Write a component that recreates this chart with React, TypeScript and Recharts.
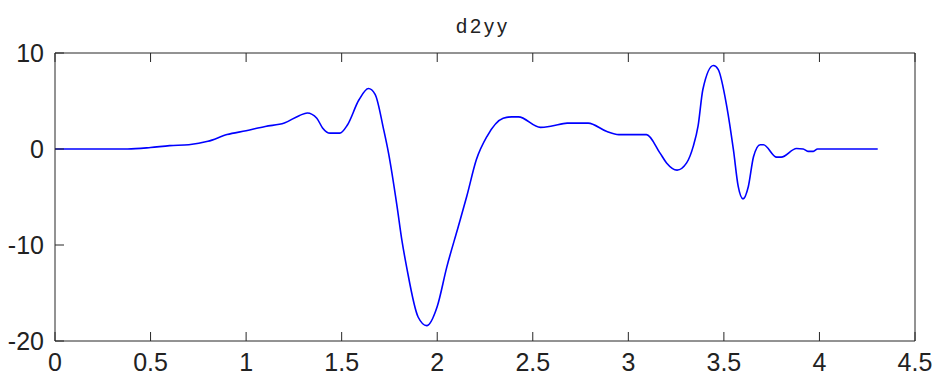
import React from "react"
import { LineChart, Line, XAxis, YAxis } from "recharts"

// sample positions (t) and second-derivative values
const tValues = [
  0, 0.38, 0.5, 0.6, 0.7, 0.8, 0.9, 1.0, 1.1, 1.2, 1.28, 1.32, 1.37, 1.4, 1.44,
  1.49, 1.53, 1.59, 1.64, 1.675, 1.72, 1.745, 1.79, 1.815, 1.84, 1.9, 1.945, 2.0,
  2.05, 2.11, 2.155, 2.205, 2.26, 2.345, 2.39, 2.425, 2.54, 2.6, 2.68, 2.79,
  2.885, 2.95, 3.095, 3.165, 3.2, 3.255, 3.305, 3.34, 3.365, 3.39, 3.445, 3.47,
  3.515, 3.55, 3.575, 3.6, 3.628, 3.655, 3.69, 3.707, 3.776, 3.8, 3.88, 3.915,
  3.94, 3.968, 3.99, 4.305,
]
const d2yy = [
  0, 0, 0.15, 0.35, 0.45, 0.8, 1.5, 1.9, 2.35, 2.7, 3.5, 3.75, 3.2, 2.2, 1.65,
  1.65, 2.5, 5.1, 6.3, 5.7, 2.0, -0.4, -6.0, -9.5, -12.3, -17.5, -18.4, -16.4,
  -12.3, -8.1, -4.9, -1.1, 1.3, 3.2, 3.35, 3.35, 2.25, 2.4, 2.7, 2.7, 1.85, 1.5,
  1.5, -0.4, -1.45, -2.2, -1.45, 0.3, 2.4, 6.2, 8.7, 8.3, 4.45, -0.1, -3.9, -5.2,
  -3.9, -0.8, 0.45, 0.45, -0.85, -0.85, 0.05, 0, -0.25, -0.25, 0, 0,
]
const xTicks = [0, 0.5, 1, 1.5, 2, 2.5, 3, 3.5, 4, 4.5]
const yTicks = [-20, -10, 0, 10]

const data = tValues.map((t, i) => ({ t, v: d2yy[i] }))

const FONT = '"Liberation Sans", Arial, Helvetica, sans-serif'
const AXIS = "#262626"
const TICK_LEN = 9

// MATLAB style: tick marks point into the plot box
function BottomTick({ x, y, payload }: any) {
  return (
    <g>
      <line x1={x} y1={y} x2={x} y2={y - TICK_LEN} stroke={AXIS} />
      <text x={x} y={y + 30} textAnchor="middle" fontSize={25} fontFamily={FONT} fill="#222">
        {payload.value}
      </text>
    </g>
  )
}

function LeftTick({ x, y, payload }: any) {
  return (
    <g>
      <line x1={x} y1={y} x2={x + TICK_LEN} y2={y} stroke={AXIS} />
      <text x={x - 11} y={y + 9} textAnchor="end" fontSize={25} fontFamily={FONT} fill="#222">
        {payload.value}
      </text>
    </g>
  )
}

function TopTick({ x, y }: any) {
  return <line x1={x} y1={y} x2={x} y2={y + TICK_LEN} stroke={AXIS} />
}

function RightTick({ x, y }: any) {
  return <line x1={x} y1={y} x2={x - TICK_LEN} y2={y} stroke={AXIS} />
}

export default function App() {
  return (
    <div style={{ position: "absolute", left: 0, top: 0, width: 936, height: 378, background: "#fff" }}>
      <div
        style={{
          position: "absolute",
          left: 0,
          width: 966,
          top: 16,
          textAlign: "center",
          fontFamily: FONT,
          fontSize: 20,
          lineHeight: "20px",
          letterSpacing: 3,
          color: "#222",
        }}
      >
        d2yy
      </div>
      <LineChart
        width={936}
        height={378}
        data={data}
        margin={{ top: 52, right: 20, bottom: 0, left: 0 }}
      >
        <XAxis
          xAxisId="bottom"
          dataKey="t"
          type="number"
          domain={[0, 4.5]}
          ticks={xTicks}
          allowDataOverflow
          height={37}
          stroke={AXIS}
          tickLine={false}
          tickSize={0}
          tickMargin={0}
          tick={<BottomTick />}
          interval={0}
        />
        <XAxis
          xAxisId="top"
          orientation="top"
          dataKey="t"
          type="number"
          domain={[0, 4.5]}
          ticks={xTicks}
          height={1}
          stroke={AXIS}
          tickLine={false}
          tickSize={0}
          tickMargin={0}
          tick={<TopTick />}
          interval={0}
        />
        <YAxis
          yAxisId="left"
          type="number"
          domain={[-20, 10]}
          ticks={yTicks}
          allowDataOverflow
          width={55}
          stroke={AXIS}
          tickLine={false}
          tickSize={0}
          tickMargin={0}
          tick={<LeftTick />}
          interval={0}
        />
        <YAxis
          yAxisId="right"
          orientation="right"
          type="number"
          domain={[-20, 10]}
          ticks={yTicks}
          width={1}
          stroke={AXIS}
          tickLine={false}
          tickSize={0}
          tickMargin={0}
          tick={<RightTick />}
          interval={0}
        />
        <Line
          xAxisId="bottom"
          yAxisId="left"
          dataKey="v"
          type="monotone"
          stroke="#0000ff"
          strokeWidth={1.6}
          dot={false}
          isAnimationActive={false}
        />
      </LineChart>
    </div>
  )
}
